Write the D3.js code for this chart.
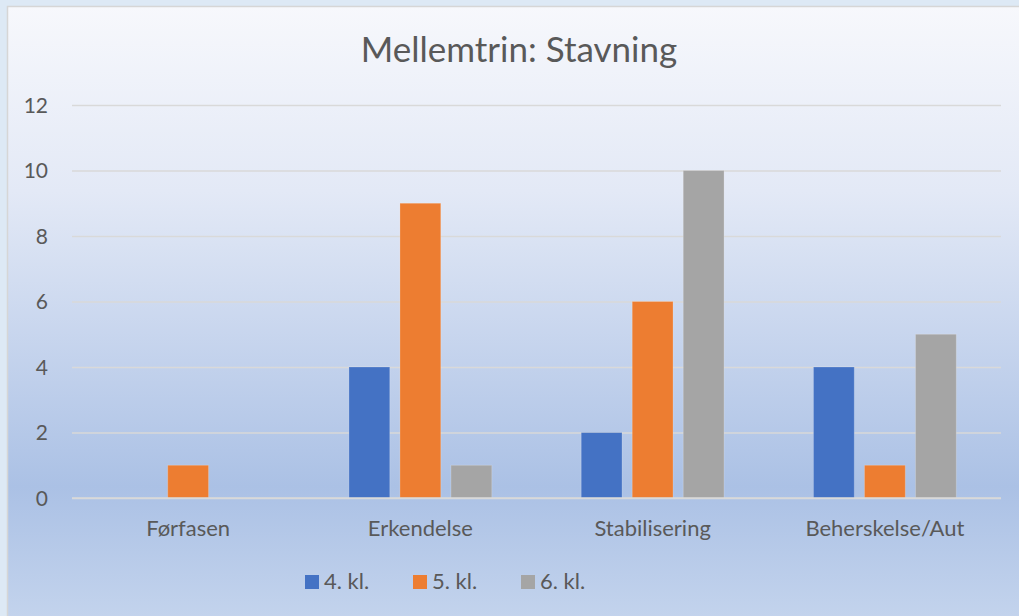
<!DOCTYPE html>
<html><head><meta charset="utf-8">
<script src="https://cdn.jsdelivr.net/npm/d3@7/dist/d3.min.js"></script>
<style>html,body{margin:0;padding:0;overflow:hidden;background:#dde9f5}</style>
</head><body>
<script>
const categories = ["Førfasen", "Erkendelse", "Stabilisering", "Beherskelse/Aut"];
const seriesNames = ["4. kl.", "5. kl.", "6. kl."];
const values4 = [0, 4, 2, 4];
const values5 = [1, 9, 6, 1];
const values6 = [0, 1, 10, 5];
const yTicks = [0, 2, 4, 6, 8, 10, 12];
const colors = ["#4472c4", "#ed7d31", "#a5a5a5"];
const title = "Mellemtrin: Stavning";

(function () {
const W = 1019, H = 616;
const font = "Lato, 'Open Sans', sans-serif";
const svg = d3.select("body").append("svg").attr("width", W).attr("height", H);
const defs = svg.append("defs");
const g = defs.append("linearGradient").attr("id", "bg").attr("x1", 0).attr("y1", 0).attr("x2", 0).attr("y2", 1);
[[0, "#f7f8fc"], [0.3, "#e3e9f6"], [0.78, "#abc1e5"], [1, "#c4d4ed"]].forEach(([o, c]) =>
  g.append("stop").attr("offset", o).attr("stop-color", c));

svg.append("rect").attr("x", 7.5).attr("y", 6.5).attr("width", W).attr("height", H)
  .attr("fill", "url(#bg)").attr("stroke", "#d6d6d6").attr("stroke-width", 1.5);

const mLeft = 72, mRight = 1001, mTop = 105, mBottom = 498;
const y = d3.scaleLinear().domain([0, 12]).range([mBottom, mTop]);
const x0 = d3.scaleBand().domain(categories).range([mLeft, mRight]).paddingInner(0.385).paddingOuter(0.1925);
const x1 = d3.scaleBand().domain(seriesNames).range([0, x0.bandwidth()]).paddingInner(0.2);

const yAxis = d3.axisLeft(y).tickValues(yTicks).tickSize(-(mRight - mLeft)).tickFormat(d3.format("d"));
const ga = svg.append("g").attr("transform", `translate(${mLeft},0)`).call(yAxis);
ga.select(".domain").remove();
ga.selectAll(".tick line").attr("stroke", "#d9d9d9").attr("stroke-width", 1.5);
ga.selectAll(".tick text").attr("x", -24).attr("dy", "0.35em").attr("fill", "#595959")
  .style("font-family", font).style("font-size", "21px");

const data = [values4, values5, values6];
const groups = svg.append("g").selectAll("g").data(categories).join("g")
  .attr("transform", d => `translate(${x0(d)},0)`);
groups.selectAll("rect").data((c, i) => seriesNames.map((s, k) => ({ s, k, v: data[k][i] })).filter(d => d.v > 0))
  .join("rect")
  .attr("x", d => x1(d.s)).attr("width", x1.bandwidth())
  .attr("y", d => y(d.v)).attr("height", d => y(0) - y(d.v))
  .attr("fill", d => colors[d.k])
  .attr("stroke", "#ffffff").attr("stroke-opacity", 0.2).attr("stroke-width", 1);

svg.append("line").attr("x1", mLeft).attr("x2", mRight).attr("y1", y(0)).attr("y2", y(0))
  .attr("stroke", "#d9d9d9").attr("stroke-width", 1.5);

const xAxis = d3.axisBottom(x0).tickSize(0).tickPadding(0);
const gx = svg.append("g").attr("transform", `translate(0,${mBottom})`).call(xAxis);
gx.select(".domain").remove();
gx.selectAll(".tick text").attr("dy", 0).attr("y", 38).attr("fill", "#595959")
  .style("font-family", font).style("font-size", "22px");

svg.append("text").attr("x", 519).attr("y", 62).attr("text-anchor", "middle")
  .attr("fill", "#595959").style("font-family", font).style("font-size", "35px").text(title);

const legendX = [305, 413, 521];
const lg = svg.append("g").selectAll("g").data(seriesNames).join("g")
  .attr("transform", (d, i) => `translate(${legendX[i]},575)`);
lg.append("rect").attr("width", 14).attr("height", 14).attr("fill", (d, i) => colors[i]);
lg.append("text").attr("x", 19).attr("y", 14).attr("fill", "#595959")
  .style("font-family", font).style("font-size", "22px").text(d => d);
})();
</script>
</body></html>
